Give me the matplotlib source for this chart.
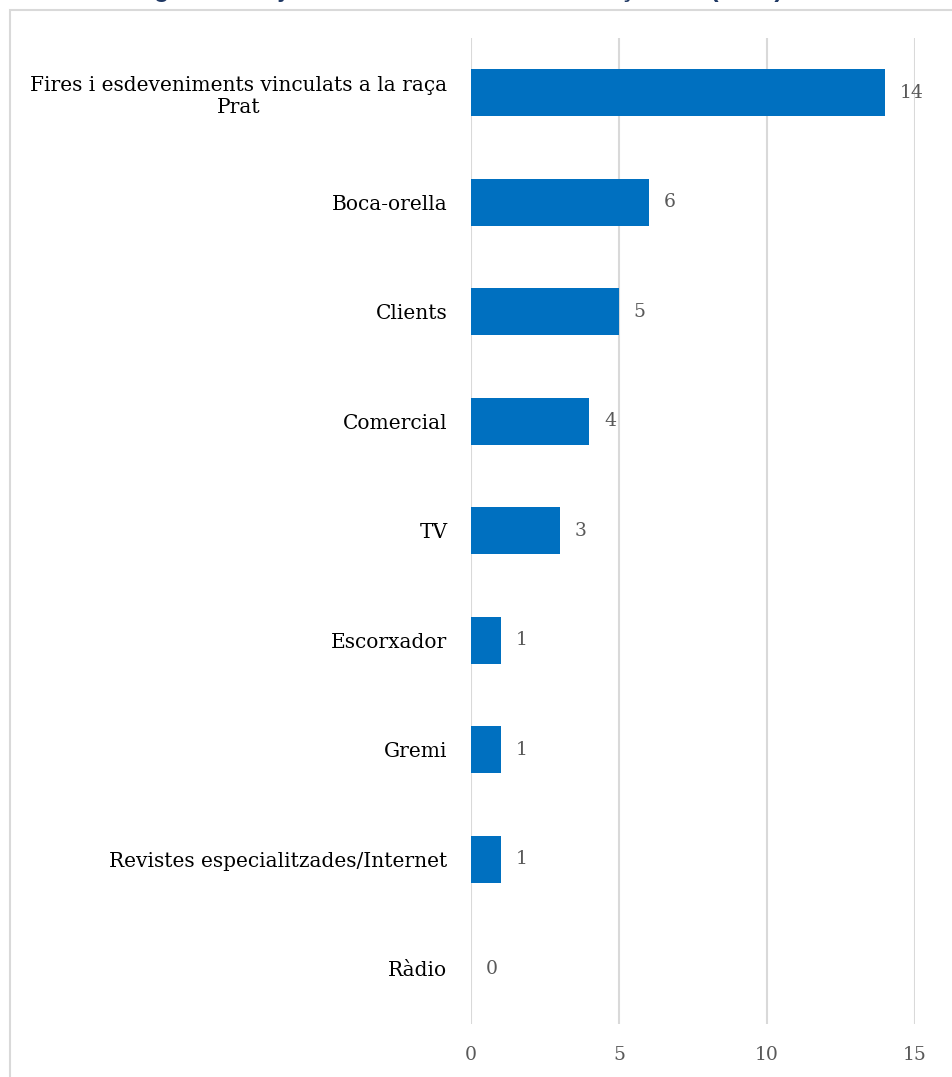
import matplotlib.pyplot as plt
from matplotlib.patches import Rectangle

# dades: mitjans de coneixement
categories = ['Fires i esdeveniments vinculats a la raça\nPrat', 'Boca-orella', 'Clients',
              'Comercial', 'TV', 'Escorxador', 'Gremi',
              'Revistes especialitzades/Internet', 'Ràdio']
values = [14, 6, 5, 4, 3, 1, 1, 1, 0]
xticks = [0, 5, 10, 15]

plt.rcParams['font.family'] = ['DejaVu Serif']

fig = plt.figure(figsize=(9.52, 10.77), dpi=100)

# marc del gràfic
fig.patches.append(Rectangle((10/952, -0.05), 1.2, 1 - 10/1077 + 0.05,
                             transform=fig.transFigure, fill=False,
                             edgecolor='#D9D9D9', linewidth=1.5))

# títol (només en surten els descendents)
fig.text(0.48, 1 + 3/1077, 'Figura 3. Mitjans de coneixement de la raça Prat (2017)',
         ha='center', va='baseline', color='#1F3864', fontsize=18,
         fontweight='bold', family=['Liberation Sans'])

ax = fig.add_axes([471/952, 1 - 1023.5/1077, 444/952, 985.5/1077])

ypos = list(range(len(categories)))
ax.barh(ypos, values, height=0.43, color='#0070C0')
for y, v in zip(ypos, values):
    ax.text(v + 0.5, y, str(v), va='center', ha='left', fontsize=13.5, color='#595959')

ax.set_xlim(0, 15)
ax.set_ylim(len(categories) - 0.5, -0.5)
ax.set_xticks(xticks)
ax.set_yticks(ypos)
ax.set_yticklabels(categories, fontsize=14.5, color='black', ha='right',
                   multialignment='center')
ax.tick_params(axis='both', length=0)
ax.tick_params(axis='x', pad=16, labelsize=13.5, labelcolor='#595959')
ax.tick_params(axis='y', pad=17)

ax.grid(axis='x', color='#D9D9D9', linewidth=1.5)
ax.set_axisbelow(True)
for s in ax.spines.values():
    s.set_visible(False)

fig.savefig('out.png', dpi=100)
